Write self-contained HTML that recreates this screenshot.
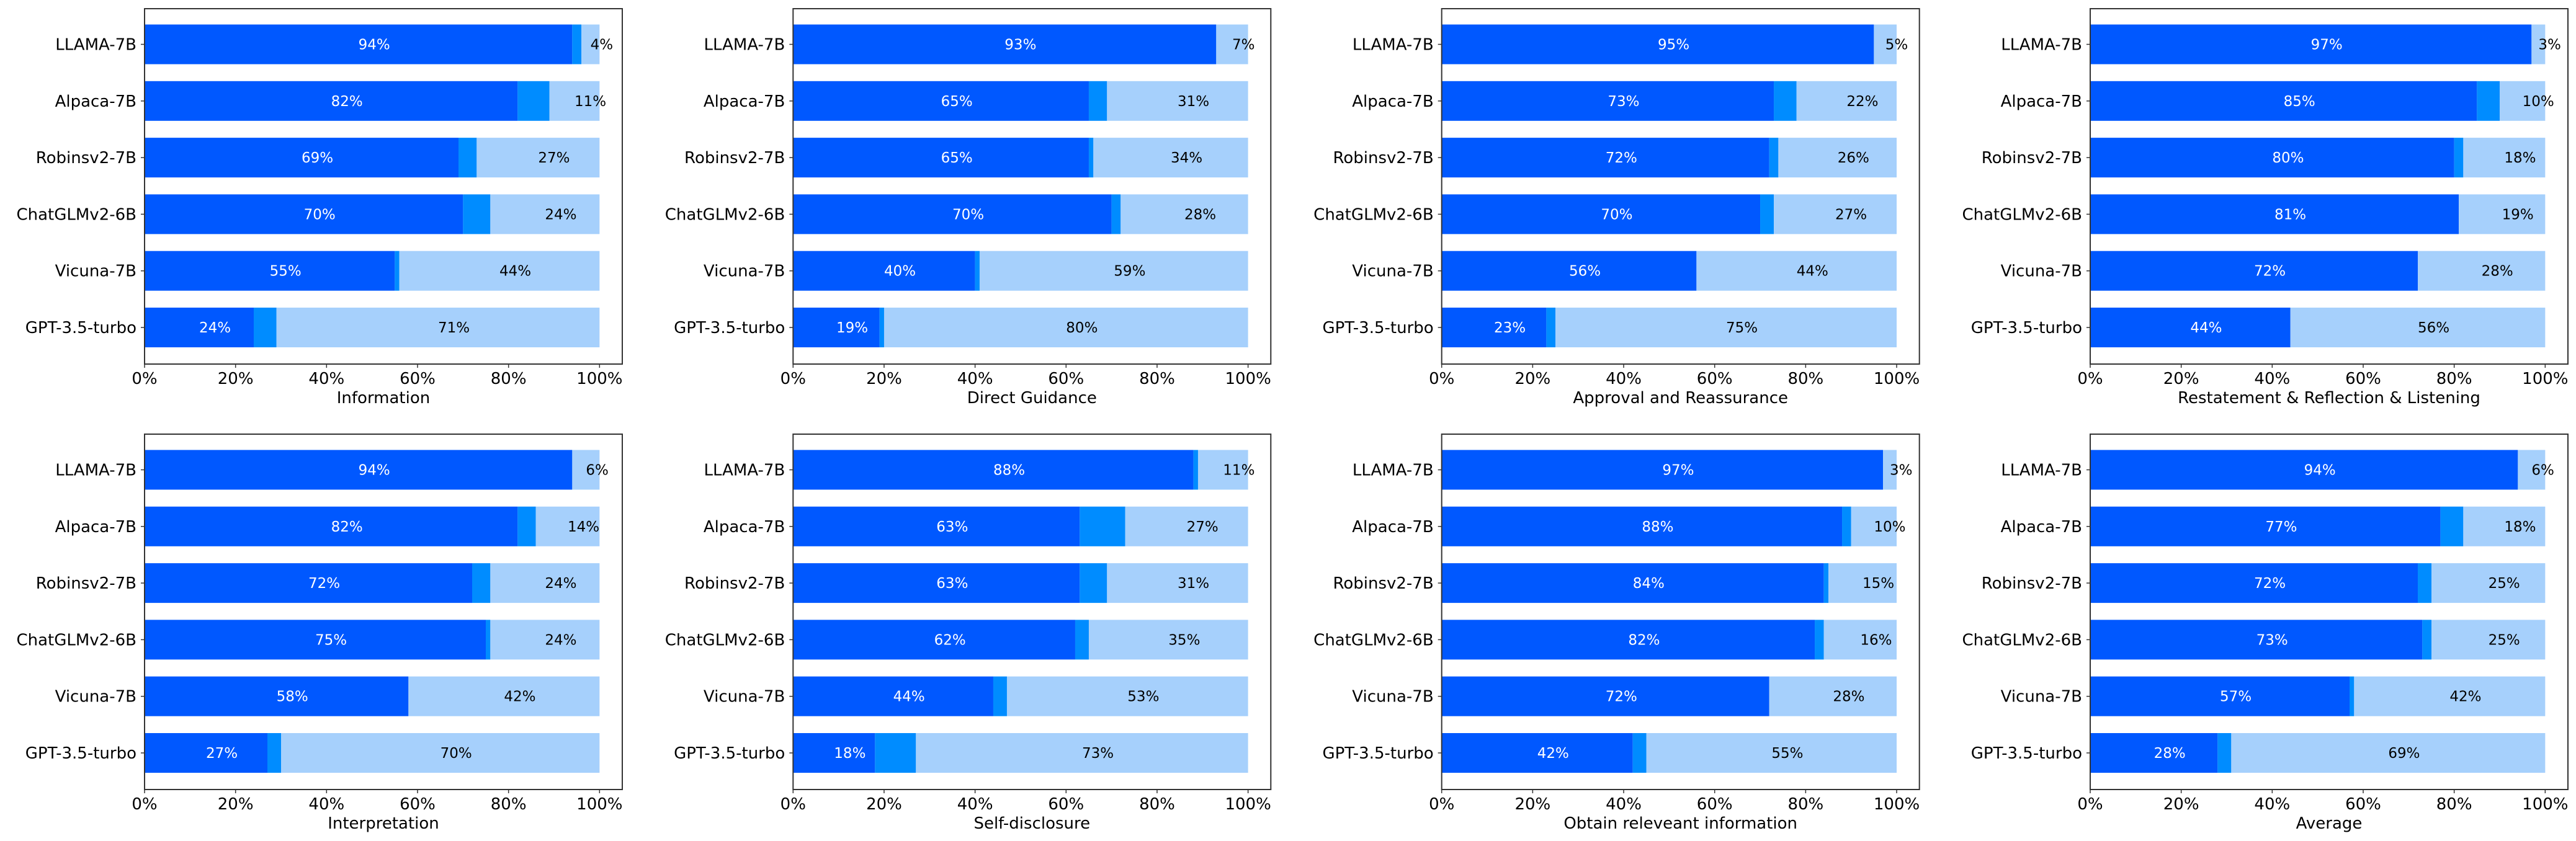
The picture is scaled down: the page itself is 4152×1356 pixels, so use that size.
<!DOCTYPE html>
<html><head><meta charset="utf-8"><style>
html,body{margin:0;padding:0;background:#fff;}
svg{display:block;font-family:"DejaVu Sans","Liberation Sans",sans-serif;}
</style></head><body>
<svg id="chart" width="4152" height="1356" viewBox="0 0 4152 1356" xmlns="http://www.w3.org/2000/svg"></svg>
<script>
const models = ["LLAMA-7B","Alpaca-7B","Robinsv2-7B","ChatGLMv2-6B","Vicuna-7B","GPT-3.5-turbo"];
const panelTitles = ["Information","Direct Guidance","Approval and Reassurance","Restatement & Reflection & Listening","Interpretation","Self-disclosure","Obtain releveant information","Average"];
const darkValues = [
  [94,82,69,70,55,24],
  [93,65,65,70,40,19],
  [95,73,72,70,56,23],
  [97,85,80,81,72,44],
  [94,82,72,75,58,27],
  [88,63,63,62,44,18],
  [97,88,84,82,72,42],
  [94,77,72,73,57,28]
];
const midValues = [
  [2,7,4,6,1,5],
  [0,4,1,2,1,1],
  [0,5,2,3,0,2],
  [0,5,2,0,0,0],
  [0,4,4,1,0,3],
  [1,10,6,3,3,9],
  [0,2,1,2,0,3],
  [0,5,3,2,1,3]
];
const lightValues = [
  [4,11,27,24,44,71],
  [7,31,34,28,59,80],
  [5,22,26,27,44,75],
  [3,10,18,19,28,56],
  [6,14,24,24,42,70],
  [11,27,31,35,53,73],
  [3,10,15,16,28,55],
  [6,18,25,25,42,69]
];
const xTicks = [0,20,40,60,80,100];

const NS="http://www.w3.org/2000/svg";
const svg=document.getElementById('chart');
function mk(tag,attrs,parent){const e=document.createElementNS(NS,tag);for(const k in attrs)e.setAttribute(k,attrs[k]);(parent||svg).appendChild(e);return e;}

const PW=770, PH=573, XMAX=105;
const lefts=[233,1278.3,2323.7,3369];
const tops=[14,700];
const C_DARK="#0058ff", C_MID="#008cff", C_LIGHT="#a6d0fc";

for(let p=0;p<8;p++){
  const L=lefts[p%4], T=tops[Math.floor(p/4)];
  const g=mk('g',{});
  
  
  const xs=v=>L+v/XMAX*PW;
  const yc=i=>T+57.5+i*91.3;
  const bh=64;
  for(let i=0;i<models.length;i++){
    const segs=[[0,darkValues[p][i],C_DARK],[darkValues[p][i],midValues[p][i],C_MID],[darkValues[p][i]+midValues[p][i],lightValues[p][i],C_LIGHT]];
    const names=['bar-positive','bar-neutral','bar-negative'];
    segs.forEach((s,k)=>{
      if(s[1]<=0)return;
      const r=mk('rect',{x:xs(s[0]),y:yc(i)-bh/2,width:xs(s[0]+s[1])-xs(s[0]),height:bh,fill:s[2]},g);
      
      
    });
    const d=darkValues[p][i], l=lightValues[p][i], m=midValues[p][i];
    const t1=mk('text',{x:xs(d/2),y:yc(i)+8,fill:'#fff','font-size':23},g);
    t1.textContent=d+'%';
    
    
    const t2=mk('text',{x:xs(d+m+l/2),y:yc(i)+8,fill:'#000','font-size':23},g);
    t2.textContent=l+'%';
    
    
    mk('line',{x1:L-6,x2:L,y1:yc(i),y2:yc(i),stroke:'#333','stroke-width':1.5},g);
    const yl=mk('text',{x:L-13,y:yc(i)+9,'text-anchor':'end','font-size':26,fill:'#000'},g);
    yl.textContent=models[i];
    
    
  }
  const frame=mk('rect',{x:L,y:T,width:PW,height:PH,fill:'none',stroke:'#333','stroke-width':2},g);
  
  
  xTicks.forEach(v=>{
    mk('line',{x1:xs(v),x2:xs(v),y1:T+PH,y2:T+PH+6,stroke:'#333','stroke-width':1.5},g);
    const tl=mk('text',{x:xs(v),y:T+PH+32,'text-anchor':'middle','font-size':26,fill:'#000'},g);
    tl.textContent=v+'%';
    
    
  });
  const xt=mk('text',{x:L+PW/2,y:T+PH+63,'text-anchor':'middle','font-size':26,fill:'#000'},g);
  xt.textContent=panelTitles[p];
  
  
}
</script>
</body></html>
